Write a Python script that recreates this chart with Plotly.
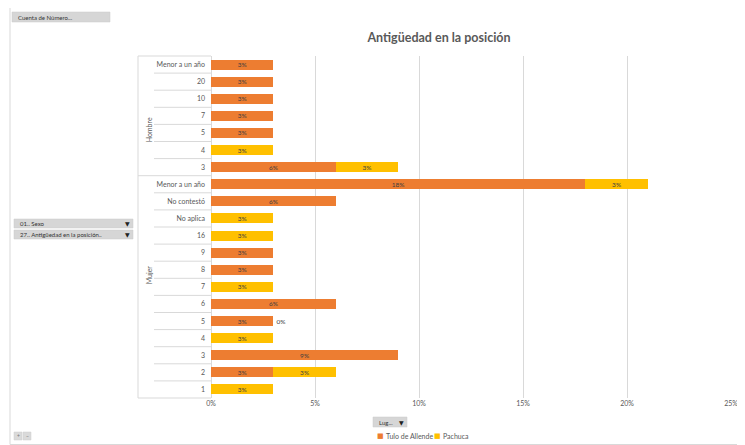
import plotly.graph_objects as go

# ---------------- data ----------------
grupos = ["Hombre"] * 7 + ["Mujer"] * 13
antiguedad = ["Menor a un año", "20", "10", "7", "5", "4", "3",
              "Menor a un año", "No contestó", "No aplica", "16", "9", "8",
              "7", "6", "5", "4", "3", "2", "1"]
tula = [3, 3, 3, 3, 3, None, 6,
        18, 6, None, None, 3, 3, None, 6, 3, None, 9, 3, None]
pachuca = [None, None, None, None, None, 3, 3,
           3, None, 3, 3, None, None, 3, None, 0, 3, None, 3, 3]
series_names = ["Tulo de Allende", "Pachuca"]
x_ticks = [0, 5, 10, 15, 20, 25]
titulo = "Antigüedad en la posición"

# ---------------- layout helpers ----------------
# the page body has an 8px margin, so the figure is drawn 8px in from the window edge
OFF = 8
W, H = 745 - OFF, 445 - OFF
# plot area, in window pixels of the reference
RL, RR, RT, RB = 211, 731, 56, 398
PL, PR, PT, PB = RL - OFF, RR - OFF, RT - OFF, RB - OFF


def px(x):
    return (x - RL) / (RR - RL)


def py(y):
    return (RB - y) / (RB - RT)


FONT = "Lato"
GREY = "#595959"
LINE = "#D9D9D9"
ids = [f"{g}|{c}" for g, c in zip(grupos, antiguedad)]
n = len(ids)

fig = go.Figure()
colors = ["#ED7D31", "#FFC000"]
for name, vals, col in zip(series_names, [tula, pachuca], colors):
    text = ["" if v is None else f"{v}%" for v in vals]
    pos = ["outside" if v == 0 else "inside" for v in vals]
    fig.add_trace(go.Bar(
        y=ids, x=vals, name=name, orientation="h",
        marker=dict(color=col, line=dict(width=0)),
        text=text, textposition=pos, insidetextanchor="middle",
        textangle=0, constraintext="none", cliponaxis=False,
        textfont=dict(size=6.5, color="#404040", family=FONT),
        hoverinfo="x+y+name", showlegend=False,
    ))

shapes = []
annotations = []

# outer chart border
shapes.append(dict(type="rect", xref="paper", yref="paper",
                   x0=px(10), x1=px(742), y0=py(444.5), y1=py(7),
                   line=dict(color="#D9D9D9", width=1), fillcolor="rgba(0,0,0,0)", layer="below"))

# table lines on the category side
shapes.append(dict(type="line", xref="paper", yref="paper",
                   x0=px(138), x1=px(138), y0=0, y1=1, line=dict(color=LINE, width=1)))
group_bounds = [0]
for i in range(1, n):
    if grupos[i] != grupos[i - 1]:
        group_bounds.append(i)
group_bounds.append(n)
for k in range(n + 1):
    yk = 1 - k / n
    x_start = px(138) if k in group_bounds else px(154)
    shapes.append(dict(type="line", xref="paper", yref="paper",
                       x0=x_start, x1=0, y0=yk, y1=yk, line=dict(color=LINE, width=1)))

# group labels (rotated)
for a, b in zip(group_bounds[:-1], group_bounds[1:]):
    yc = 1 - ((a + b) / 2) / n
    annotations.append(dict(text=grupos[a], xref="paper", yref="paper",
                            x=px(143), y=yc, showarrow=False, textangle=-90,
                            font=dict(size=7, color=GREY, family=FONT)))


def button(x0, y0, x1, y1, label, arrow=True):
    shapes.append(dict(type="rect", xref="paper", yref="paper",
                       x0=px(x0), x1=px(x1), y0=py(y1), y1=py(y0),
                       fillcolor="#D6D6D6", line=dict(color="#C8C8C8", width=0.5)))
    annotations.append(dict(text=label, xref="paper", yref="paper",
                            x=px(x0 + 4), y=py((y0 + y1) / 2), xanchor="left",
                            yanchor="middle", showarrow=False,
                            font=dict(size=6, color="#333333", family=FONT)))
    if arrow:
        annotations.append(dict(text="▼", xref="paper", yref="paper",
                                x=px(x1 - 6), y=py((y0 + y1) / 2), xanchor="center",
                                yanchor="middle", showarrow=False,
                                font=dict(size=6, color="#222222", family="DejaVu Sans")))


button(12, 12, 110, 22, "Cuenta de Número...", arrow=False)
button(14, 219, 133, 228, "01.. Sexo")
button(14, 230, 133, 239, "27.. Antigüedad en la posición..")
button(373, 417, 407, 427, "Lug...")
for bx, sym in [(14, "+"), (23, "−")]:
    shapes.append(dict(type="rect", xref="paper", yref="paper",
                       x0=px(bx), x1=px(bx + 8), y0=py(440), y1=py(432),
                       fillcolor="#DADADA", line=dict(color="#CCCCCC", width=0.5)))
    annotations.append(dict(text=sym, xref="paper", yref="paper",
                            x=px(bx + 4), y=py(436), xanchor="center", yanchor="middle",
                            showarrow=False,
                            font=dict(size=5, color="#777777", family=FONT)))

# legend (small square keys like the original)
legend_pos = [(380, 384), (437, 441)]
for (kx, tx), name, col in zip(legend_pos, series_names, colors):
    annotations.append(dict(text="■", xref="paper", yref="paper",
                            x=px(kx), y=py(436), xanchor="center", yanchor="middle",
                            showarrow=False, font=dict(size=7, color=col, family="DejaVu Sans")))
    annotations.append(dict(text=name, xref="paper", yref="paper",
                            x=px(tx), y=py(436), xanchor="left", yanchor="middle",
                            showarrow=False, font=dict(size=7, color=GREY, family=FONT)))

fig.update_layout(
    width=W, height=H,
    margin=dict(l=PL, r=W - PR, t=PT, b=H - PB, pad=0, autoexpand=False),
    paper_bgcolor="white", plot_bgcolor="white",
    barmode="stack", bargap=0.42, showlegend=False,
    font=dict(family=FONT, size=7, color=GREY),
    title=dict(text=titulo, x=px(439), xref="paper", xanchor="center",
               y=1 - (38 - OFF) / H, yanchor="middle",
               font=dict(size=12.5, color=GREY, family=FONT, weight="bold")),
    xaxis=dict(range=[0, 25], tickvals=x_ticks, ticktext=[f"{t}%" for t in x_ticks],
               showgrid=True, gridcolor=LINE, gridwidth=1, automargin=False,
               zeroline=True, zerolinecolor=LINE, zerolinewidth=1,
               showline=False, ticks="", tickfont=dict(size=7, color=GREY),
               fixedrange=True),
    yaxis=dict(type="category", categoryorder="array", categoryarray=ids,
               range=[n - 0.5, -0.5], tickmode="array", tickvals=ids,
               ticktext=antiguedad, showgrid=False, zeroline=False, automargin=False,
               showline=False, ticks="", ticklabelstandoff=5,
               tickfont=dict(size=7, color=GREY), fixedrange=True),
    shapes=shapes, annotations=annotations,
)

fig.write_html("out.html")
